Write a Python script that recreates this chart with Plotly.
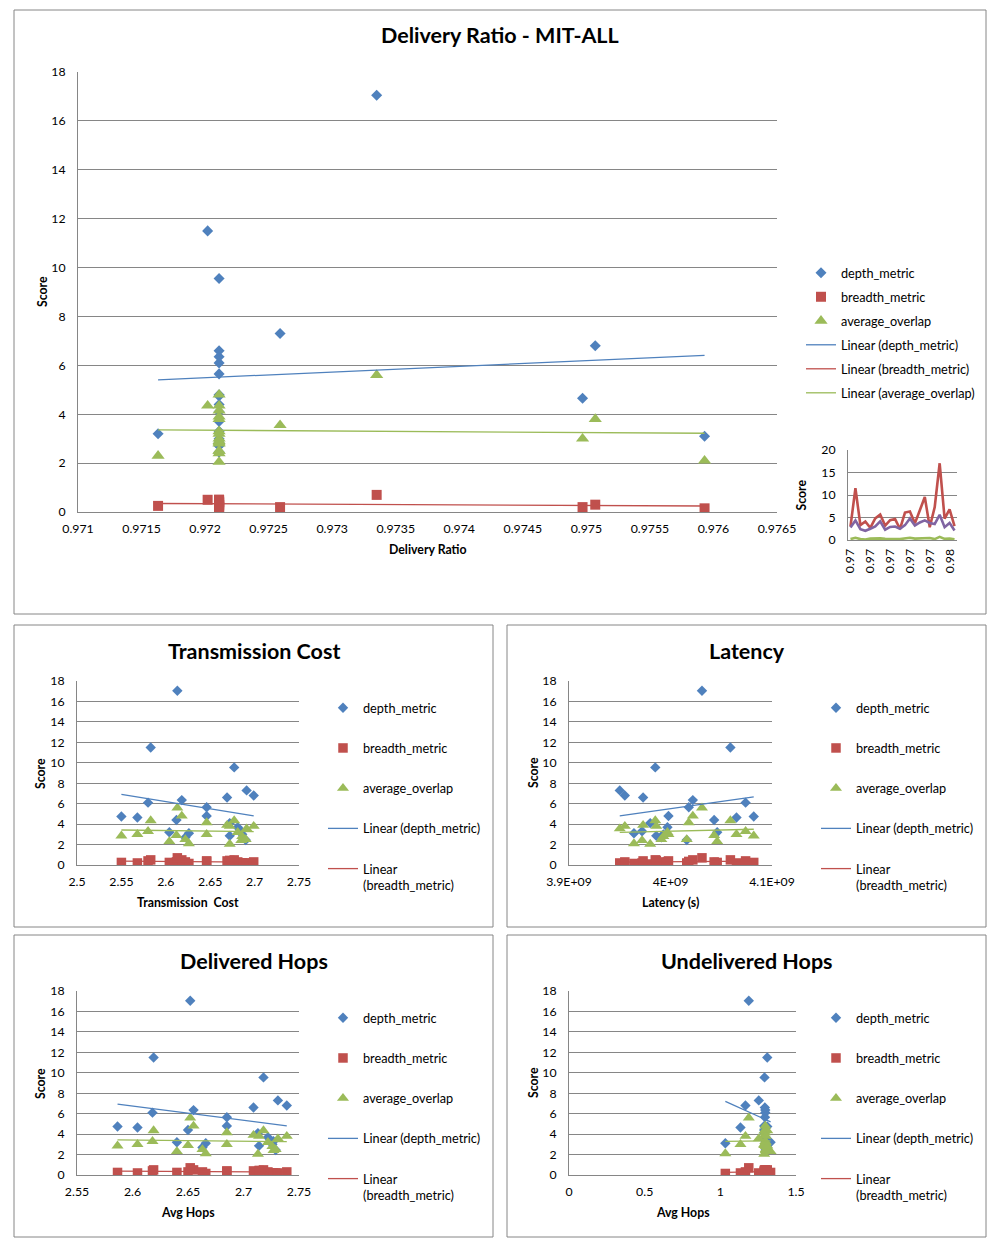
import numpy as np
import plotly.graph_objects as go

W, H = 1002, 1242
OFF = 8  # page body margin
FONT = "Lato"

# ---------------- data (one entry per simulation run, in run order) ----------------
depth_metric = [3.0, 11.5, 3.3, 4.1, 2.7, 4.8, 5.65, 3.2, 4.4, 4.65, 2.45,
                6.1, 6.35, 3.7, 6.6, 9.55, 2.85, 7.3, 17.05, 4.75, 6.8, 3.1]
breadth_metric = [0.2, 0.5, 0.2, 0.1, 0.3, 0.4, 0.35, 0.25, 0.3, 0.2, 0.2,
                  0.4, 0.5, 0.3, 0.4, 0.5, 0.45, 0.2, 0.7, 0.25, 0.3, 0.15]
average_overlap = [2.8, 4.35, 2.4, 2.05, 2.5, 3.0, 4.15, 2.3, 2.9, 3.0, 2.5,
                   3.3, 4.8, 3.2, 3.9, 4.35, 3.8, 3.55, 5.6, 2.85, 3.8, 2.1]
delivery_ratio = [0.97211, 0.97202, 0.97211, 0.97211, 0.97211, 0.97211, 0.97211, 0.97163,
                  0.97211, 0.97497, 0.97211, 0.97211, 0.97211, 0.97211, 0.97211, 0.97211,
                  0.97211, 0.97259, 0.97335, 0.97211, 0.97507, 0.97593]
transmission_cost = [2.686, 2.583, 2.685, 2.672, 2.622, 2.646, 2.646, 2.604, 2.612, 2.568, 2.690,
                     2.580, 2.618, 2.681, 2.669, 2.677, 2.672, 2.691, 2.613, 2.550, 2.699, 2.626]
latency_s = [3.993e9, 4.059e9, 3.972e9, 3.980e9, 3.991e9, 3.998e9, 4.018e9, 4.046e9,
             4.043e9, 4.065e9, 4.016e9, 4.074e9, 4.022e9, 3.997e9, 3.973e9, 3.985e9,
             3.986e9, 3.950e9, 4.031e9, 4.082e9, 3.955e9, 3.964e9]
delivered_hops = [2.726, 2.619, 2.727, 2.713, 2.663, 2.685, 2.685, 2.640, 2.650, 2.6045, 2.729,
                  2.618, 2.655, 2.722, 2.709, 2.718, 2.714, 2.731, 2.652, 2.5865, 2.739, 2.666]
undelivered_hops = [1.30, 1.31, 1.30, 1.29, 1.31, 1.29, 1.295, 1.332, 1.29, 1.133, 1.30,
                    1.297, 1.297, 1.30, 1.294, 1.292, 1.30, 1.254, 1.188, 1.31, 1.166, 1.033]

# tick labels
score_ticks = [0, 2, 4, 6, 8, 10, 12, 14, 16, 18]
dr_ticks = [0.971, 0.9715, 0.972, 0.9725, 0.973, 0.9735, 0.974, 0.9745, 0.975, 0.9755, 0.976, 0.9765]
dr_tick_labels = ["0.971", "0.9715", "0.972", "0.9725", "0.973", "0.9735", "0.974",
                  "0.9745", "0.975", "0.9755", "0.976", "0.9765"]
tc_ticks = [2.5, 2.55, 2.6, 2.65, 2.7, 2.75]
tc_tick_labels = ["2.5", "2.55", "2.6", "2.65", "2.7", "2.75"]
lat_ticks = [3.9e9, 4.0e9, 4.1e9]
lat_tick_labels = ["3.9E+09", "4E+09", "4.1E+09"]
dh_ticks = [2.55, 2.6, 2.65, 2.7, 2.75]
dh_tick_labels = ["2.55", "2.6", "2.65", "2.7", "2.75"]
uh_ticks = [0, 0.5, 1, 1.5]
uh_tick_labels = ["0", "0.5", "1", "1.5"]
inset_ticks = [0, 5, 10, 15, 20]

BLUE, RED, GREEN, PURPLE = "#4F81BD", "#C0504D", "#9BBB59", "#8064A2"
GRID = "#868686"
TICKF = 12.3
LEGF = 12.7
TITLEF = 21.5

fig = go.Figure()


def fx(px):
    return (px - OFF) / W


def fy(py):
    return 1 - (py - OFF) / H


def linfit(x, y):
    x = np.asarray(x, float)
    y = np.asarray(y, float)
    xm, ym = x.mean(), y.mean()
    b = ((x - xm) * (y - ym)).sum() / ((x - xm) ** 2).sum()
    a = ym - b * xm
    xs = np.array([x.min(), x.max()])
    return xs, a + b * xs


series = [
    ("depth_metric", depth_metric, BLUE, "diamond"),
    ("breadth_metric", breadth_metric, RED, "square"),
    ("average_overlap", average_overlap, GREEN, "triangle-up"),
]

SMALL_MS = [8, 9.5, 10.5]
panels = [
    dict(k="", x=delivery_ratio, box=(78, 777, 72, 512), rng=[0.971, 0.9765], tv=dr_ticks, tt=dr_tick_labels,
         title="Delivery Ratio - MIT-ALL", tx=500, ty=35, xt="Delivery Ratio", xty=550, ytx=42,
         leg=(801, 258), gap=4.5, ms=[8.5, 10, 11.5], ntl=3, wrap=False),
    dict(k="2", x=transmission_cost, box=(77, 299, 681, 865), rng=[2.5, 2.75], tv=tc_ticks, tt=tc_tick_labels,
         title="Transmission Cost", tx=253.5, ty=651, xt="Transmission  Cost", xty=902, ytx=40,
         leg=(323, 693), gap=20.7, ms=SMALL_MS, ntl=2, wrap=True),
    dict(k="3", x=latency_s, box=(569, 772, 681, 865), rng=[3.9e9, 4.1e9], tv=lat_ticks, tt=lat_tick_labels,
         title="Latency", tx=746.5, ty=651, xt="Latency (s)", xty=902, ytx=533,
         leg=(816, 693), gap=20.7, ms=SMALL_MS, ntl=2, wrap=True),
    dict(k="4", x=delivered_hops, box=(77, 299, 991, 1175), rng=[2.55, 2.75], tv=dh_ticks, tt=dh_tick_labels,
         title="Delivered Hops", tx=253.5, ty=961, xt="Avg Hops", xty=1212, ytx=40,
         leg=(323, 1003), gap=20.7, ms=SMALL_MS, ntl=2, wrap=True),
    dict(k="5", x=undelivered_hops, box=(569, 796, 991, 1175), rng=[0, 1.5], tv=uh_ticks, tt=uh_tick_labels,
         title="Undelivered Hops", tx=746.5, ty=961, xt="Avg Hops", xty=1212, ytx=533,
         leg=(816, 1003), gap=20.7, ms=SMALL_MS, ntl=2, wrap=True),
]

layout = dict(
    template="none",
    width=W, height=H, margin=dict(l=0, r=0, t=0, b=0, pad=0, autoexpand=False),
    paper_bgcolor="white", plot_bgcolor="white",
    font=dict(family=FONT, size=TICKF, color="#000000"),
    showlegend=True, shapes=[], annotations=[],
)

for p in panels:
    k = p["k"]
    xa = "x" + k
    ya = "y" + k
    leg = "legend" + k
    for i, (name, vals, col, sym) in enumerate(series):
        fig.add_trace(go.Scatter(
            x=p["x"], y=vals, mode="markers", name=name, xaxis=xa, yaxis=ya,
            marker=dict(symbol=sym, size=p["ms"][i], color=col, line=dict(width=0)),
            legend=leg, legendgroup=k + name, hoverinfo="x+y"))
    for i, (name, vals, col, sym) in enumerate(series):
        xs, ys = linfit(p["x"], vals)
        nm = "Linear (" + name + ")"
        if p["wrap"] and name == "breadth_metric":
            nm = "Linear<br>(" + name + ")"
        fig.add_trace(go.Scatter(
            x=xs, y=ys, mode="lines", name=nm, xaxis=xa, yaxis=ya,
            line=dict(color=col, width=1.3), legend=leg, legendgroup=k + "t" + name,
            showlegend=(i < p["ntl"]), hoverinfo="skip"))
    l, r, t, b = p["box"]
    axk = "" if k == "" else k
    layout["xaxis" + axk] = dict(
        domain=[fx(l), fx(r)], range=p["rng"], anchor=ya, tickvals=p["tv"], ticktext=p["tt"],
        showgrid=False, zeroline=False, showline=True, linecolor=GRID, linewidth=1, automargin=False,
        ticks="", ticklabelstandoff=5, tickfont=dict(family=FONT, size=TICKF))
    layout["yaxis" + axk] = dict(
        domain=[fy(b), fy(t)], range=[0, 18], anchor=xa, tickvals=score_ticks, automargin=False,
        showgrid=True, gridcolor=GRID, gridwidth=1, zeroline=False,
        showline=True, linecolor=GRID, linewidth=1,
        ticks="", ticklabelstandoff=9, tickfont=dict(family=FONT, size=TICKF))
    lx, ly = p["leg"]
    layout[leg] = dict(
        x=fx(lx), y=fy(ly), xanchor="left", yanchor="top", xref="paper", yref="paper",
        traceorder="grouped", tracegroupgap=p["gap"], bgcolor="rgba(0,0,0,0)", borderwidth=0,
        font=dict(family=FONT, size=LEGF), valign="top", itemwidth=30)
    layout["annotations"].append(dict(
        text="<b>" + p["title"] + "</b>", x=fx(p["tx"]), y=fy(p["ty"]), xref="paper", yref="paper",
        showarrow=False, xanchor="center", yanchor="middle", font=dict(family=FONT, size=TITLEF)))
    layout["annotations"].append(dict(
        text="<b>" + p["xt"] + "</b>", x=fx((l + r) / 2), y=fy(p["xty"]), xref="paper", yref="paper",
        showarrow=False, xanchor="center", yanchor="middle", font=dict(family=FONT, size=TICKF)))
    layout["annotations"].append(dict(
        text="<b>Score</b>", x=fx(p["ytx"]), y=fy((t + b) / 2), xref="paper", yref="paper",
        showarrow=False, xanchor="center", yanchor="middle", textangle=-90,
        font=dict(family=FONT, size=TICKF)))

# ---------------- inset line chart (series against run order) ----------------
idx = list(range(len(delivery_ratio)))
inset_label_idx = idx[::4]
inset_labels = ["%.2f" % delivery_ratio[i] for i in inset_label_idx]
for name, vals, col in [("depth_metric", depth_metric, RED),
                        ("breadth_metric", breadth_metric, GREEN),
                        ("average_overlap", average_overlap, PURPLE)]:
    fig.add_trace(go.Scatter(x=idx, y=vals, mode="lines", name=name, xaxis="x6", yaxis="y6",
                             line=dict(color=col, width=2.6), showlegend=False))
layout["xaxis6"] = dict(domain=[fx(848), fx(957)], range=[-0.5, len(idx) - 0.5], anchor="y6",
                        tickvals=inset_label_idx, ticktext=inset_labels, tickangle=-90, automargin=False,
                        showgrid=False, zeroline=False, showline=True, linecolor=GRID, ticks="",
                        ticklabelstandoff=3, tickfont=dict(family=FONT, size=TICKF))
layout["yaxis6"] = dict(domain=[fy(540), fy(450)], range=[0, 20], anchor="x6", tickvals=inset_ticks,
                        showgrid=True, gridcolor=GRID, zeroline=False, showline=True, linecolor=GRID,
                        automargin=False, ticks="", ticklabelstandoff=9, tickfont=dict(family=FONT, size=TICKF))
layout["annotations"].append(dict(text="<b>Score</b>", x=fx(811), y=fy(495), xref="paper", yref="paper",
                                  showarrow=False, textangle=-90, font=dict(family=FONT, size=TICKF)))

# panel borders
for (l, r, t, b) in [(14, 986, 10, 614), (14, 493, 625, 927), (507, 986, 625, 927),
                     (14, 493, 935, 1237), (507, 986, 935, 1237)]:
    layout["shapes"].append(dict(type="rect", xref="paper", yref="paper", x0=fx(l), x1=fx(r),
                                 y0=fy(b), y1=fy(t), line=dict(color=GRID, width=1), layer="below"))

fig.update_layout(**layout)
fig.write_html("out.html")
